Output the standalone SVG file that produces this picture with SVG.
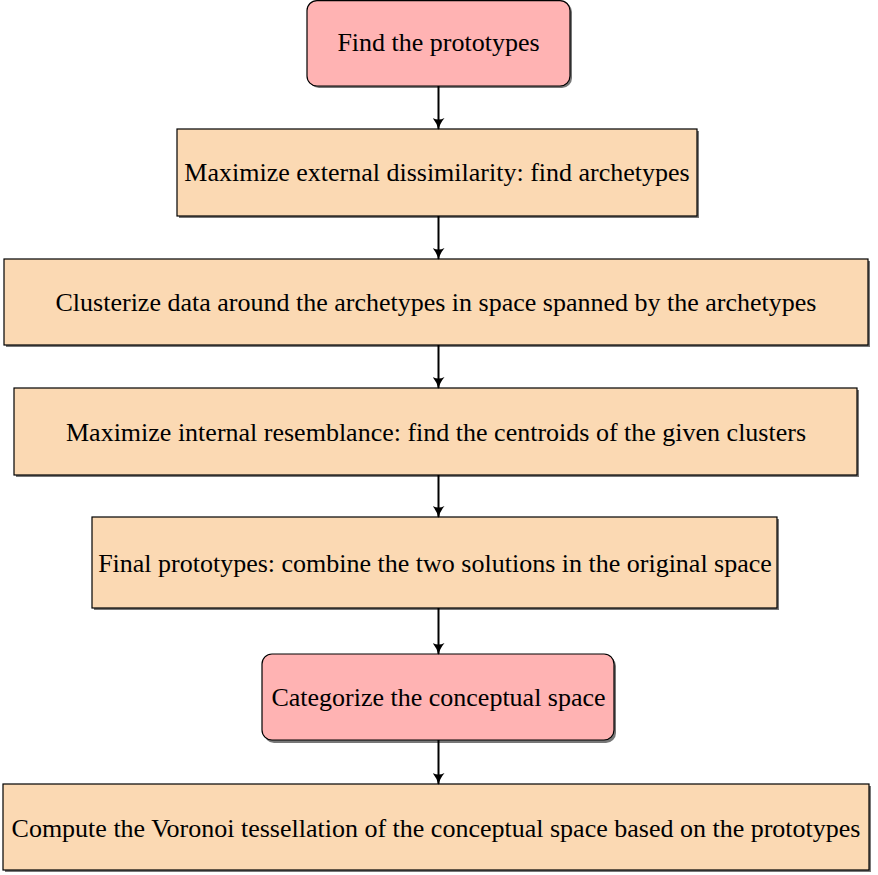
<svg xmlns="http://www.w3.org/2000/svg" width="878" height="875" viewBox="0 0 878 875">
<style>
.sh{fill:#555;opacity:0.8}
.start{fill:#FFB3B3;stroke:#000;stroke-width:1.2}
.proc{fill:#FBD9B3;stroke:#000;stroke-width:1.2}
text{font-family:"Liberation Serif","Times New Roman",serif;font-size:26px;fill:#000;text-anchor:middle}
.c line{stroke:#000;stroke-width:2;marker-end:url(#ah)}
</style>
<defs>
<marker id="ah" viewBox="0 0 12 12" refX="11" refY="6" markerWidth="12" markerHeight="12" orient="auto" markerUnits="userSpaceOnUse">
<path d="M0,0 Q6,5 12,6 Q6,7 0,12 Q3,6 0,0 Z" fill="#000"/>
</marker>
</defs>
<g id="n1"><rect class="sh" x="309" y="2" width="263" height="86" rx="10"/><rect class="start" x="307" y="0.6" width="263" height="85.4" rx="10"/><text x="438.5" y="51">Find the prototypes</text></g>
<g id="n2"><rect class="sh" x="179" y="131" width="520" height="87"/><rect class="proc" x="177" y="129" width="520" height="87"/><text x="437" y="181">Maximize external dissimilarity: find archetypes</text></g>
<g id="n3"><rect class="sh" x="6" y="261" width="864" height="86"/><rect class="proc" x="4" y="259" width="864" height="86"/><text x="436" y="311">Clusterize data around the archetypes in space spanned by the archetypes</text></g>
<g id="n4"><rect class="sh" x="16" y="390" width="843" height="87"/><rect class="proc" x="14" y="388" width="843" height="87"/><text x="436" y="441">Maximize internal resemblance: find the centroids of the given clusters</text></g>
<g id="n5"><rect class="sh" x="94" y="519" width="685" height="91"/><rect class="proc" x="92" y="517" width="685" height="91"/><text x="435" y="572">Final prototypes: combine the two solutions in the original space</text></g>
<g id="n6"><rect class="sh" x="264" y="656" width="352" height="87" rx="10"/><rect class="start" x="262" y="654" width="352" height="86" rx="10"/><text x="438.5" y="706">Categorize the conceptual space</text></g>
<g id="n7"><rect class="sh" x="5" y="786" width="866" height="86"/><rect class="proc" x="3" y="784" width="866" height="86"/><text x="436" y="837">Compute the Voronoi tessellation of the conceptual space based on the prototypes</text></g>
<g class="c" id="connectors">
<line x1="438.5" y1="86" x2="438.5" y2="129"/>
<line x1="438.5" y1="216" x2="438.5" y2="259"/>
<line x1="438.5" y1="345" x2="438.5" y2="388"/>
<line x1="438.5" y1="475" x2="438.5" y2="517"/>
<line x1="438.5" y1="608" x2="438.5" y2="654"/>
<line x1="438.5" y1="740" x2="438.5" y2="784"/>
</g>
</svg>
